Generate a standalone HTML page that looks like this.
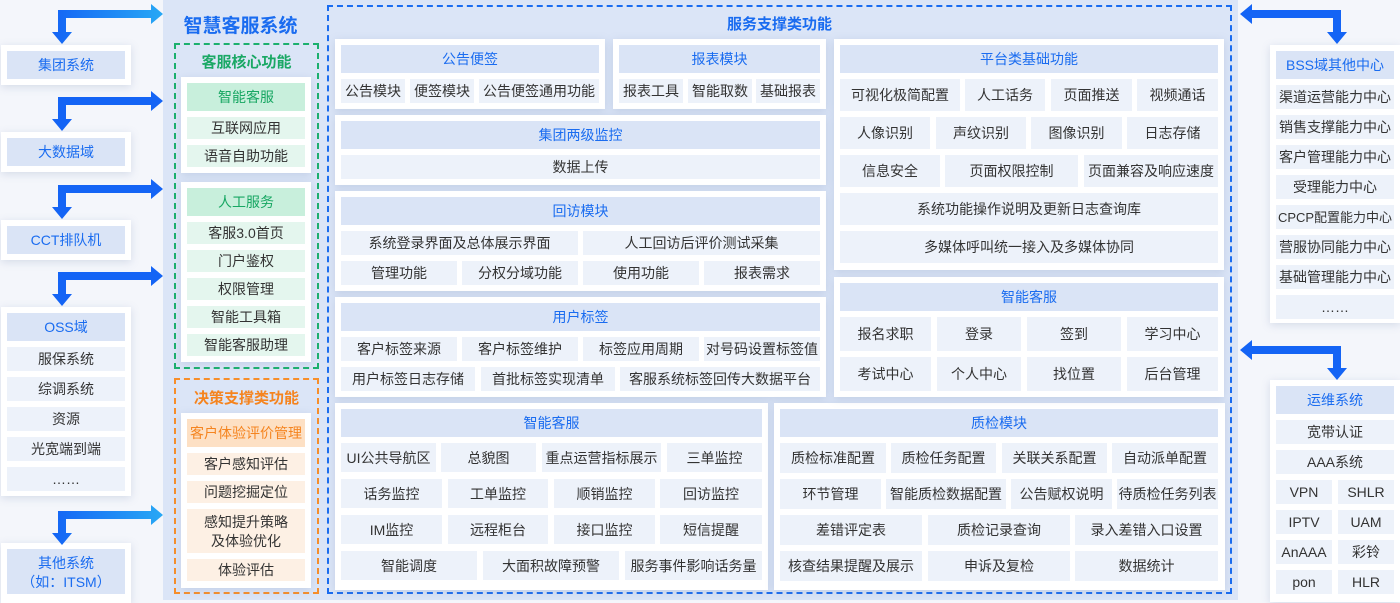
<!DOCTYPE html>
<html><head><meta charset="utf-8">
<style>
*{margin:0;padding:0;box-sizing:border-box}
body{width:1400px;height:600px;overflow:hidden;background:#f4f6fb;position:relative;font-family:"Liberation Sans","Noto Sans CJK SC",sans-serif;color:#333}
div{position:absolute}
.c{background:#fff;box-shadow:0 2px 8px rgba(120,140,180,.25)}
.b{display:flex;align-items:center;justify-content:center;text-align:center;font-size:14px;background:#edf2fa;white-space:nowrap;line-height:1.4;padding-top:2px}
.h{background:#dae4f6;color:#1a6cf0}
.g{background:#e4f6ee}.gh{background:#c8efdc;color:#18a763}
.o{background:#fdf0e4}.oh{background:#fde0c4;color:#f5841f}
.t{font-weight:bold;display:flex;justify-content:center;align-items:center}
</style></head><body>
<div style="left:163px;top:0;width:1075px;height:600px;background:#dbe5f7"></div>
<div class="t" style="left:163px;top:8px;width:155px;height:32px;font-size:19px;color:#1a6cf0">智慧客服系统</div>
<div style="left:174px;top:43px;width:145px;height:326px;border:2px dashed #1cb06e"></div>
<div class="t" style="left:174px;top:50px;width:145px;height:22px;font-size:15px;color:#1aa865">客服核心功能</div>
<div style="left:174px;top:378px;width:145px;height:216px;border:2px dashed #f78e2a"></div>
<div class="t" style="left:174px;top:386px;width:145px;height:22px;font-size:15px;color:#f5841f">决策支撑类功能</div>
<div style="left:327px;top:5px;width:905px;height:589px;border:2px dashed #1a6cf0"></div>
<div class="t" style="left:327px;top:12px;width:905px;height:22px;font-size:15px;color:#1a6cf0">服务支撑类功能</div>

<!-- green cards -->
<div class="c" style="left:181px;top:77px;width:130px;height:96px"></div>
<div class="b gh" style="left:187px;top:83px;width:118px;height:28px">智能客服</div>
<div class="b g" style="left:187px;top:117px;width:118px;height:22px">互联网应用</div>
<div class="b g" style="left:187px;top:145px;width:118px;height:22px">语音自助功能</div>
<div class="c" style="left:181px;top:182px;width:130px;height:180px"></div>
<div class="b gh" style="left:187px;top:188px;width:118px;height:28px">人工服务</div>
<div class="b g" style="left:187px;top:222px;width:118px;height:22px">客服3.0首页</div>
<div class="b g" style="left:187px;top:250px;width:118px;height:22px">门户鉴权</div>
<div class="b g" style="left:187px;top:278px;width:118px;height:22px">权限管理</div>
<div class="b g" style="left:187px;top:306px;width:118px;height:22px">智能工具箱</div>
<div class="b g" style="left:187px;top:334px;width:118px;height:22px">智能客服助理</div>
<!-- orange -->
<div class="c" style="left:181px;top:413px;width:130px;height:175px"></div>
<div class="b oh" style="left:187px;top:419px;width:118px;height:28px">客户体验评价管理</div>
<div class="b o" style="left:187px;top:453px;width:118px;height:22px">客户感知评估</div>
<div class="b o" style="left:187px;top:481px;width:118px;height:22px">问题挖掘定位</div>
<div class="b o" style="left:187px;top:509px;width:118px;height:44px;white-space:normal;line-height:1.35">感知提升策略<br>及体验优化</div>
<div class="b o" style="left:187px;top:559px;width:118px;height:22px">体验评估</div>

<!-- left systems -->
<div class="c" style="left:1px;top:45px;width:130px;height:40px"></div>
<div class="b h" style="left:7px;top:51px;width:118px;height:28px">集团系统</div>
<div class="c" style="left:1px;top:132px;width:130px;height:40px"></div>
<div class="b h" style="left:7px;top:138px;width:118px;height:28px">大数据域</div>
<div class="c" style="left:1px;top:220px;width:130px;height:40px"></div>
<div class="b h" style="left:7px;top:226px;width:118px;height:28px">CCT排队机</div>
<div class="c" style="left:1px;top:307px;width:130px;height:189px"></div>
<div class="b h" style="left:7px;top:313px;width:118px;height:28px">OSS域</div>
<div class="b" style="left:7px;top:347px;width:118px;height:24px">服保系统</div>
<div class="b" style="left:7px;top:377px;width:118px;height:24px">综调系统</div>
<div class="b" style="left:7px;top:407px;width:118px;height:24px">资源</div>
<div class="b" style="left:7px;top:437px;width:118px;height:24px">光宽端到端</div>
<div class="b" style="left:7px;top:467px;width:118px;height:24px">……</div>
<div class="c" style="left:1px;top:543px;width:130px;height:60px"></div>
<div class="b h" style="left:7px;top:549px;width:118px;height:45px;line-height:1.3">其他系统<br>（如：ITSM）</div>

<!-- right systems -->
<div class="c" style="left:1270px;top:45px;width:130px;height:278px"></div>
<div class="b h" style="left:1276px;top:51px;width:118px;height:28px">BSS域其他中心</div>
<div class="b" style="left:1276px;top:85px;width:118px;height:24px">渠道运营能力中心</div>
<div class="b" style="left:1276px;top:115px;width:118px;height:24px">销售支撑能力中心</div>
<div class="b" style="left:1276px;top:145px;width:118px;height:24px">客户管理能力中心</div>
<div class="b" style="left:1276px;top:175px;width:118px;height:24px">受理能力中心</div>
<div class="b" style="left:1276px;top:205px;width:118px;height:24px;font-size:13px">CPCP配置能力中心</div>
<div class="b" style="left:1276px;top:235px;width:118px;height:24px">营服协同能力中心</div>
<div class="b" style="left:1276px;top:265px;width:118px;height:24px">基础管理能力中心</div>
<div class="b" style="left:1276px;top:295px;width:118px;height:24px">……</div>
<div class="c" style="left:1270px;top:380px;width:130px;height:222px"></div>
<div class="b h" style="left:1276px;top:386px;width:118px;height:28px">运维系统</div>
<div class="b" style="left:1276px;top:420px;width:118px;height:24px">宽带认证</div>
<div class="b" style="left:1276px;top:450px;width:118px;height:24px">AAA系统</div>
<div class="b" style="left:1276px;top:480px;width:56px;height:24px">VPN</div><div class="b" style="left:1338px;top:480px;width:56px;height:24px">SHLR</div>
<div class="b" style="left:1276px;top:510px;width:56px;height:24px">IPTV</div><div class="b" style="left:1338px;top:510px;width:56px;height:24px">UAM</div>
<div class="b" style="left:1276px;top:540px;width:56px;height:24px">AnAAA</div><div class="b" style="left:1338px;top:540px;width:56px;height:24px">彩铃</div>
<div class="b" style="left:1276px;top:570px;width:56px;height:24px">pon</div><div class="b" style="left:1338px;top:570px;width:56px;height:24px">HLR</div>

<!-- 公告便签 -->
<div class="c" style="left:335px;top:39px;width:270px;height:70px"></div>
<div class="b h" style="left:341px;top:45px;width:258px;height:28px">公告便签</div>
<div class="b" style="left:341px;top:79px;width:64px;height:24px">公告模块</div>
<div class="b" style="left:410px;top:79px;width:64px;height:24px">便签模块</div>
<div class="b" style="left:479px;top:79px;width:120px;height:24px">公告便签通用功能</div>
<!-- 报表 -->
<div class="c" style="left:613px;top:39px;width:213px;height:70px"></div>
<div class="b h" style="left:619px;top:45px;width:201px;height:28px">报表模块</div>
<div class="b" style="left:619px;top:79px;width:64px;height:24px">报表工具</div>
<div class="b" style="left:688px;top:79px;width:64px;height:24px">智能取数</div>
<div class="b" style="left:756px;top:79px;width:64px;height:24px">基础报表</div>
<!-- 集团两级监控 -->
<div class="c" style="left:335px;top:115px;width:491px;height:70px"></div>
<div class="b h" style="left:341px;top:121px;width:479px;height:28px">集团两级监控</div>
<div class="b" style="left:341px;top:155px;width:479px;height:24px">数据上传</div>
<!-- 回访 -->
<div class="c" style="left:335px;top:191px;width:491px;height:100px"></div>
<div class="b h" style="left:341px;top:197px;width:479px;height:28px">回访模块</div>
<div class="b" style="left:341px;top:231px;width:237px;height:24px">系统登录界面及总体展示界面</div>
<div class="b" style="left:583px;top:231px;width:237px;height:24px">人工回访后评价测试采集</div>
<div class="b" style="left:341px;top:261px;width:116px;height:24px">管理功能</div>
<div class="b" style="left:462px;top:261px;width:116px;height:24px">分权分域功能</div>
<div class="b" style="left:583px;top:261px;width:116px;height:24px">使用功能</div>
<div class="b" style="left:704px;top:261px;width:116px;height:24px">报表需求</div>
<!-- 用户标签 -->
<div class="c" style="left:335px;top:297px;width:491px;height:100px"></div>
<div class="b h" style="left:341px;top:303px;width:479px;height:28px">用户标签</div>
<div class="b" style="left:341px;top:337px;width:116px;height:24px">客户标签来源</div>
<div class="b" style="left:462px;top:337px;width:116px;height:24px">客户标签维护</div>
<div class="b" style="left:583px;top:337px;width:116px;height:24px">标签应用周期</div>
<div class="b" style="left:704px;top:337px;width:116px;height:24px">对号码设置标签值</div>
<div class="b" style="left:341px;top:367px;width:134px;height:24px">用户标签日志存储</div>
<div class="b" style="left:481px;top:367px;width:134px;height:24px">首批标签实现清单</div>
<div class="b" style="left:620px;top:367px;width:200px;height:24px">客服系统标签回传大数据平台</div>
<!-- 智能客服 bottom -->
<div class="c" style="left:335px;top:403px;width:433px;height:187px"></div>
<div class="b h" style="left:341px;top:409px;width:421px;height:28px">智能客服</div>
<div class="b" style="left:341px;top:443px;width:95px;height:29px">UI公共导航区</div>
<div class="b" style="left:441px;top:443px;width:95px;height:29px">总貌图</div>
<div class="b" style="left:542px;top:443px;width:119px;height:29px">重点运营指标展示</div>
<div class="b" style="left:667px;top:443px;width:95px;height:29px">三单监控</div>
<div class="b" style="left:341px;top:479px;width:101px;height:29px">话务监控</div>
<div class="b" style="left:448px;top:479px;width:100px;height:29px">工单监控</div>
<div class="b" style="left:554px;top:479px;width:101px;height:29px">顺销监控</div>
<div class="b" style="left:660px;top:479px;width:102px;height:29px">回访监控</div>
<div class="b" style="left:341px;top:515px;width:101px;height:29px">IM监控</div>
<div class="b" style="left:448px;top:515px;width:100px;height:29px">远程柜台</div>
<div class="b" style="left:554px;top:515px;width:101px;height:29px">接口监控</div>
<div class="b" style="left:660px;top:515px;width:102px;height:29px">短信提醒</div>
<div class="b" style="left:341px;top:551px;width:136px;height:29px">智能调度</div>
<div class="b" style="left:483px;top:551px;width:136px;height:29px">大面积故障预警</div>
<div class="b" style="left:625px;top:551px;width:137px;height:29px">服务事件影响话务量</div>
<!-- 质检 -->
<div class="c" style="left:774px;top:403px;width:451px;height:187px"></div>
<div class="b h" style="left:780px;top:409px;width:438px;height:28px">质检模块</div>
<div class="b" style="left:780px;top:443px;width:106px;height:30px">质检标准配置</div>
<div class="b" style="left:891px;top:443px;width:105px;height:30px">质检任务配置</div>
<div class="b" style="left:1002px;top:443px;width:105px;height:30px">关联关系配置</div>
<div class="b" style="left:1112px;top:443px;width:106px;height:30px">自动派单配置</div>
<div class="b" style="left:780px;top:479px;width:101px;height:30px">环节管理</div>
<div class="b" style="left:886px;top:479px;width:120px;height:30px">智能质检数据配置</div>
<div class="b" style="left:1011px;top:479px;width:101px;height:30px">公告赋权说明</div>
<div class="b" style="left:1117px;top:479px;width:101px;height:30px">待质检任务列表</div>
<div class="b" style="left:780px;top:515px;width:142px;height:30px">差错评定表</div>
<div class="b" style="left:928px;top:515px;width:142px;height:30px">质检记录查询</div>
<div class="b" style="left:1075px;top:515px;width:143px;height:30px">录入差错入口设置</div>
<div class="b" style="left:780px;top:551px;width:142px;height:30px">核查结果提醒及展示</div>
<div class="b" style="left:928px;top:551px;width:142px;height:30px">申诉及复检</div>
<div class="b" style="left:1075px;top:551px;width:143px;height:30px">数据统计</div>
<!-- 平台类基础功能 -->
<div class="c" style="left:834px;top:39px;width:390px;height:231px"></div>
<div class="b h" style="left:840px;top:45px;width:378px;height:28px">平台类基础功能</div>
<div class="b" style="left:840px;top:79px;width:120px;height:32px">可视化极简配置</div>
<div class="b" style="left:965px;top:79px;width:80px;height:32px">人工话务</div>
<div class="b" style="left:1051px;top:79px;width:81px;height:32px">页面推送</div>
<div class="b" style="left:1137px;top:79px;width:81px;height:32px">视频通话</div>
<div class="b" style="left:840px;top:117px;width:90px;height:32px">人像识别</div>
<div class="b" style="left:936px;top:117px;width:90px;height:32px">声纹识别</div>
<div class="b" style="left:1031px;top:117px;width:91px;height:32px">图像识别</div>
<div class="b" style="left:1127px;top:117px;width:91px;height:32px">日志存储</div>
<div class="b" style="left:840px;top:155px;width:100px;height:32px">信息安全</div>
<div class="b" style="left:945px;top:155px;width:133px;height:32px">页面权限控制</div>
<div class="b" style="left:1084px;top:155px;width:134px;height:32px">页面兼容及响应速度</div>
<div class="b" style="left:840px;top:193px;width:378px;height:32px">系统功能操作说明及更新日志查询库</div>
<div class="b" style="left:840px;top:231px;width:378px;height:32px">多媒体呼叫统一接入及多媒体协同</div>
<!-- 智能客服 right -->
<div class="c" style="left:834px;top:277px;width:390px;height:120px"></div>
<div class="b h" style="left:840px;top:283px;width:378px;height:28px">智能客服</div>
<div class="b" style="left:840px;top:317px;width:91px;height:34px">报名求职</div>
<div class="b" style="left:937px;top:317px;width:84px;height:34px">登录</div>
<div class="b" style="left:1027px;top:317px;width:94px;height:34px">签到</div>
<div class="b" style="left:1127px;top:317px;width:91px;height:34px">学习中心</div>
<div class="b" style="left:840px;top:357px;width:91px;height:34px">考试中心</div>
<div class="b" style="left:937px;top:357px;width:84px;height:34px">个人中心</div>
<div class="b" style="left:1027px;top:357px;width:94px;height:34px">找位置</div>
<div class="b" style="left:1127px;top:357px;width:91px;height:34px">后台管理</div>

<svg width="1400" height="600" style="position:absolute;left:0;top:0">
<defs><linearGradient id="gr" x1="0" x2="1"><stop offset="0" stop-color="#1464f5"/><stop offset="1" stop-color="#28a8f5"/></linearGradient></defs>
<path d="M58 10H151V4L163 14L151 24V18H66V32H72L62 44L52 32H58Z" fill="url(#gr)"/>
<path d="M58 97H151V91L163 101L151 111V105H66V119H72L62 131L52 119H58Z" fill="#1464f5"/>
<path d="M58 185H151V179L163 189L151 199V193H66V207H72L62 219L52 207H58Z" fill="#1464f5"/>
<path d="M58 272H151V266L163 276L151 286V280H66V294H72L62 306L52 294H58Z" fill="#1464f5"/>
<path d="M58 511H151V505L163 515L151 525V519H66V533H72L62 545L52 533H58Z" fill="url(#gr)"/>
<path d="M1341 10H1252V4L1240 14L1252 24V18H1333V32H1327L1337 44L1347 32H1341Z" fill="#1464f5"/>
<path d="M1341 346H1252V340L1240 350L1252 360V354H1333V368H1327L1337 380L1347 368H1341Z" fill="#1464f5"/>
</svg>
</body></html>
